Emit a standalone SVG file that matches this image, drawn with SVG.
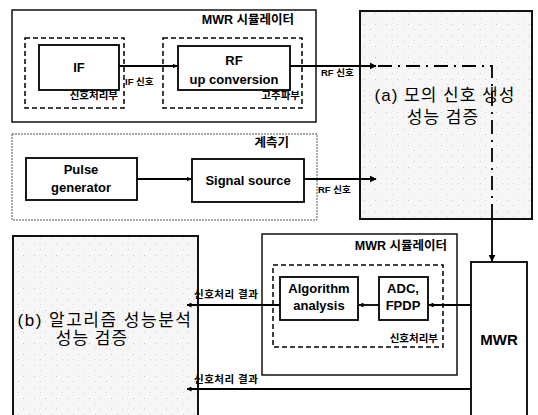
<svg xmlns="http://www.w3.org/2000/svg" width="538" height="415" viewBox="0 0 538 415">
<defs>
<pattern id="speck" width="11" height="11" patternUnits="userSpaceOnUse">
<rect width="11" height="11" fill="#f6f6f6"/>
<rect x="1" y="2" width="1" height="1" fill="#c8c8c8"/>
<rect x="7" y="7" width="1" height="1" fill="#d6d6d6"/>
</pattern>
<marker id="ah" viewBox="0 0 10 10" refX="9" refY="5" markerWidth="7" markerHeight="7" markerUnits="userSpaceOnUse" orient="auto">
<path d="M0,0 L10,5 L0,10 z" fill="#000"/>
</marker>
<marker id="ahs" viewBox="0 0 10 10" refX="9" refY="5" markerWidth="5" markerHeight="5" markerUnits="userSpaceOnUse" orient="auto">
<path d="M0,0 L10,5 L0,10 z" fill="#000"/>
</marker>
</defs>
<style>
.box{fill:#fff;stroke:#000;stroke-width:1.8}
.outer{fill:#fff;stroke:#111;stroke-width:1.5}
.dotted{fill:#fff;stroke:#555;stroke-width:1;stroke-dasharray:2 1}
.dash{fill:none;stroke:#000;stroke-width:1.5;stroke-dasharray:5 3}
.eval{fill:url(#speck);stroke:#111;stroke-width:2}
.ln{fill:none;stroke:#000;stroke-width:1.8}
.dd{fill:none;stroke:#000;stroke-width:1.8;stroke-dasharray:14 6 2 6}
text{font-family:"Liberation Sans","Noto Sans CJK KR",sans-serif;fill:#000;text-anchor:middle}
.t{font-size:13px;font-weight:bold}
.s{font-size:9.5px;font-weight:bold}
.sk{font-size:10.5px;font-weight:bold}
.m{font-size:12.5px;font-weight:bold}
.k{font-size:17px;letter-spacing:1px}
</style>

<g id="eval-a">
<rect class="eval" x="360" y="11" width="172" height="208"/>
<text class="k" x="445" y="101">(a) 모의 신호 생성</text>
<text class="k" x="443" y="123">성능 검증</text>
</g>

<g id="eval-b">
<rect class="eval" x="13" y="236" width="185" height="185"/>
<text class="k" x="105" y="326" style="letter-spacing:1.5px">(b) 알고리즘 성능분석</text>
<text class="k" x="92" y="344">성능 검증</text>
</g>

<g id="mwr-sim-top">
<rect class="outer" x="12" y="10" width="304" height="112"/>
<text class="m" x="294" y="24" style="text-anchor:end">MWR 시뮬레이터</text>
</g>

<g id="sigproc-top">
<rect class="dash" x="25" y="38" width="99" height="70"/>
<text class="sk" x="118" y="99" style="text-anchor:end">신호처리부</text>
</g>

<g id="rfpart">
<rect class="dash" x="163" y="38" width="139" height="70"/>
<text class="sk" x="300" y="99" style="text-anchor:end">고주파부</text>
</g>

<g id="if">
<rect class="box" x="39" y="45" width="80" height="45"/>
<text class="t" x="79" y="72">IF</text>
</g>

<g id="rf-up">
<rect class="box" x="178" y="46" width="112" height="44"/>
<text class="t" x="234" y="65">RF</text>
<text class="t" x="234" y="84">up conversion</text>
</g>

<g id="instrument">
<rect class="dotted" x="12" y="134" width="305" height="86"/>
<text class="m" x="289" y="147" style="text-anchor:end">계측기</text>
</g>

<g id="pulse">
<rect class="box" x="26" y="158" width="111" height="42"/>
<text class="t" x="81" y="174">Pulse</text>
<text class="t" x="81" y="192">generator</text>
</g>

<g id="signal-source">
<rect class="box" x="192" y="159" width="112" height="43"/>
<text class="t" x="248" y="185">Signal source</text>
</g>

<g id="mwr-sim-bottom">
<rect class="outer" x="262" y="234" width="195" height="141"/>
<text class="m" x="447" y="250" style="text-anchor:end">MWR 시뮬레이터</text>
</g>

<g id="sigproc-bottom">
<rect class="dash" x="273" y="265" width="170" height="82"/>
<text class="sk" x="438" y="342" style="text-anchor:end">신호처리부</text>
</g>

<g id="algorithm">
<rect class="box" x="280" y="277" width="78" height="43"/>
<text class="t" x="319" y="293">Algorithm</text>
<text class="t" x="319" y="310">analysis</text>
</g>

<g id="adc">
<rect class="box" x="379" y="277" width="49" height="43"/>
<text class="t" x="403" y="293">ADC,</text>
<text class="t" x="403" y="310">FPDP</text>
</g>

<g id="mwr">
<rect class="box" x="471" y="262" width="56" height="160"/>
<text class="t" x="499" y="345" style="font-size:15px">MWR</text>
</g>

<g id="connectors">
<line class="ln" x1="119" y1="66" x2="177" y2="66" marker-end="url(#ahs)"/>
<text class="s" x="125" y="85" style="text-anchor:start">IF 신호</text>
<line class="ln" x1="290" y1="66" x2="376" y2="66" marker-end="url(#ah)"/>
<text class="s" x="321" y="76" style="text-anchor:start">RF 신호</text>
<polyline class="dd" points="378,66 492,66 492,219"/>
<line class="ln" x1="492" y1="219" x2="492" y2="261" marker-end="url(#ah)"/>
<line class="ln" x1="137" y1="179" x2="191" y2="179" marker-end="url(#ahs)"/>
<line class="ln" x1="304" y1="179" x2="376" y2="179" marker-end="url(#ah)"/>
<text class="s" x="318" y="193" style="text-anchor:start">RF 신호</text>
<line class="ln" x1="471" y1="305" x2="429" y2="305" marker-end="url(#ahs)"/>
<line class="ln" x1="379" y1="305" x2="359" y2="305" marker-end="url(#ahs)"/>
<line class="ln" x1="280" y1="305" x2="187" y2="305" marker-end="url(#ahs)"/>
<text class="sk" x="194" y="298" style="text-anchor:start;letter-spacing:0.5px">신호처리 결과</text>
<line class="ln" x1="471" y1="389" x2="187" y2="389" marker-end="url(#ahs)"/>
<text class="sk" x="194" y="383" style="text-anchor:start;letter-spacing:0.5px">신호처리 결과</text>
</g>
</svg>
